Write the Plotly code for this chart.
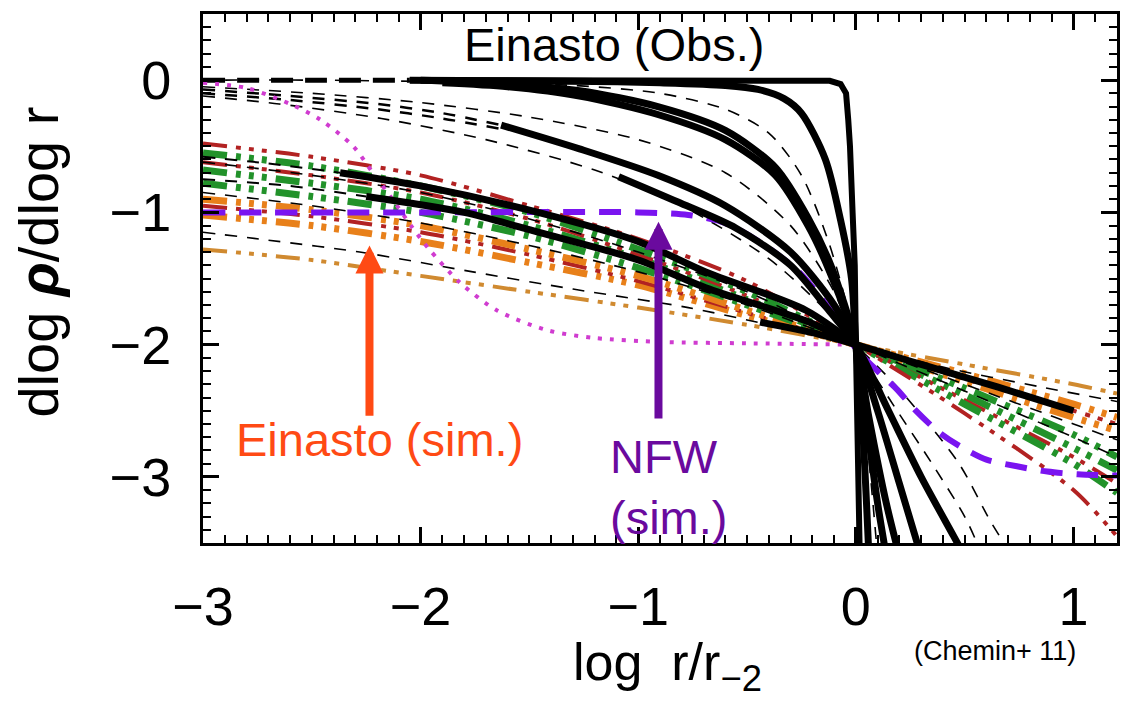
import plotly.graph_objects as go

# ---------------- data ----------------
# simulated Einasto profiles (coloured dash-dot), common x grid
sim_x = [-3.0, -2.5, -2.0, -1.5, -1.0, -0.5, 0.0, 0.5, 1.0, 1.2]
sim_red_1 = [-0.48, -0.58, -0.72, -0.95, -1.20, -1.52, -2.0, -2.52, -3.10, -3.45]
sim_green_1 = [-0.55, -0.65, -0.80, -1.00, -1.28, -1.60, -2.0, -2.45, -2.90, -3.12]
sim_red_2 = [-0.62, -0.72, -0.85, -1.05, -1.32, -1.63, -2.0, -2.42, -2.85, -3.05]
sim_green_2 = [-0.68, -0.78, -0.90, -1.10, -1.35, -1.66, -2.0, -2.38, -2.78, -2.95]
sim_green_3 = [-0.78, -0.88, -1.00, -1.18, -1.42, -1.70, -2.0, -2.33, -2.68, -2.85]
sim_orange_1 = [-0.90, -0.98, -1.10, -1.28, -1.48, -1.74, -2.0, -2.28, -2.55, -2.65]
sim_red_3 = [-0.95, -1.03, -1.15, -1.32, -1.52, -1.76, -2.0, -2.26, -2.50, -2.60]
sim_orange_2 = [-1.02, -1.10, -1.22, -1.38, -1.55, -1.78, -2.0, -2.22, -2.45, -2.55]
sim_tan = [-1.28, -1.36, -1.48, -1.60, -1.72, -1.85, -2.0, -2.15, -2.30, -2.37]

# observed Einasto fits, thin dashed (extrapolations)
dash1_x = [-3.0, -2.5, -2.0, -1.3, -0.9, -0.6, -0.4, -0.25, -0.12, 0.0, 0.05, 0.1]
dash1_y = [0.0, 0.0, -0.01, -0.04, -0.10, -0.22, -0.40, -0.72, -1.25, -2.0, -2.7, -3.6]
dash2_x = [-3.0, -2.5, -2.0, -1.5, -1.0, -0.6, -0.3, -0.1, 0.0, 0.15, 0.35, 0.5, 0.57]
dash2_y = [-0.05, -0.10, -0.17, -0.28, -0.45, -0.70, -1.10, -1.60, -2.0, -2.40, -2.90, -3.30, -3.55]
dash3_x = [-3.0, -2.65, -2.18, -1.7, -1.2, -0.8, -0.4, -0.15, 0.0, 0.19, 0.47, 0.62, 0.7]
dash3_y = [-0.12, -0.18, -0.29, -0.45, -0.68, -0.95, -1.35, -1.72, -2.0, -2.32, -2.89, -3.34, -3.55]
dash4_x = [-3.0, -2.7, -2.28, -1.76, -1.3, -0.77, -0.4, 0.0, 0.4, 0.85, 1.2]
dash4_y = [-1.15, -1.21, -1.30, -1.45, -1.58, -1.72, -1.85, -2.0, -2.17, -2.32, -2.43]
dash5_y = [-0.62, -0.72, -0.85, -1.05, -1.30, -1.60, -2.0, -2.35, -2.70, -2.85]
dash6_y = [-0.85, -0.95, -1.08, -1.25, -1.45, -1.70, -2.0, -2.30, -2.60, -2.72]
dash7_x = [-3.0, -2.6, -2.2, -1.9, -1.63]
dash7_y = [-0.07, -0.12, -0.18, -0.25, -0.34]
dash7b_y = [-0.10, -0.15, -0.22, -0.29, -0.37]
dash8_x = [-3.0, -2.7, -2.37]
dash8_y = [-0.58, -0.63, -0.70]
dash9_x = [-3.0, -2.6, -2.25]
dash9_y = [-0.75, -0.80, -0.88]
dash0_x = [-3.0, -2.5, -2.05]
dash0_y = [0.0, 0.0, 0.0]

# observed Einasto fits, thick solid
obs1_x = [-2.05, -1.0, -0.3, -0.12, -0.07, -0.045, -0.035, -0.027, -0.015, -0.005, 0.0, 0.005, 0.01, 0.018]
obs1_y = [0.0, 0.0, 0.0, -0.005, -0.03, -0.10, -0.30, -0.50, -1.00, -1.40, -2.0, -2.5, -3.0, -3.6]
obs2_x = [-2.05, -1.2, -0.9, -0.6, -0.45, -0.33, -0.25, -0.14, -0.07, -0.02, 0.0, 0.03, 0.06]
obs2_y = [0.0, -0.01, -0.02, -0.04, -0.07, -0.14, -0.25, -0.60, -1.06, -1.50, -2.0, -2.6, -3.6]
obs3_x = [-2.0, -1.7, -1.27, -0.91, -0.6, -0.37, -0.22, -0.115, 0.0, 0.05, 0.1, 0.14]
obs3_y = [0.0, -0.02, -0.08, -0.20, -0.38, -0.66, -1.04, -1.40, -2.0, -2.6, -3.2, -3.6]
obs4_x = [-1.9, -1.6, -1.27, -0.91, -0.6, -0.37, -0.22, -0.12, 0.0, 0.06, 0.14, 0.2]
obs4_y = [-0.02, -0.05, -0.12, -0.26, -0.45, -0.72, -1.10, -1.45, -2.0, -2.55, -3.2, -3.6]
obs5_x = [-1.63, -1.27, -0.91, -0.6, -0.3, -0.1, 0.0, 0.1, 0.2, 0.3]
obs5_y = [-0.34, -0.52, -0.72, -0.95, -1.30, -1.70, -2.0, -2.5, -3.05, -3.6]
obs6_x = [-1.09, -0.82, -0.55, -0.3, -0.12, 0.0, 0.15, 0.3, 0.45, 0.5]
obs6_y = [-0.73, -0.92, -1.12, -1.40, -1.75, -2.0, -2.5, -3.0, -3.45, -3.6]
obs7_x = [-2.37, -2.0, -1.46, -1.0, -0.69, -0.23, 0.0]
obs7_y = [-0.70, -0.80, -1.00, -1.22, -1.45, -1.74, -2.0]
obs8_x = [-2.25, -1.8, -1.46, -1.0, -0.69, -0.23, 0.0]
obs8_y = [-0.88, -1.00, -1.15, -1.36, -1.57, -1.82, -2.0]
obs9_x = [-0.44, -0.2, 0.0, 0.3, 0.65, 1.0]
obs9_y = [-1.83, -1.91, -2.0, -2.15, -2.32, -2.50]

# NFW (sim.) dashed violet
nfw_x = [-3.0, -2.0, -1.0, -0.77, -0.62, -0.55, -0.4, -0.25, -0.1, 0.0, 0.1, 0.19, 0.27, 0.38, 0.48, 0.6, 0.74, 0.88, 1.02, 1.2]
nfw_y = [-1.0, -1.0, -1.0, -1.02, -1.07, -1.12, -1.27, -1.47, -1.78, -2.03, -2.20, -2.34, -2.49, -2.66, -2.77, -2.87, -2.92, -2.96, -2.98, -2.99]

# magenta dotted profile
mag_x = [-3.0, -2.8, -2.6, -2.46, -2.31, -2.22, -2.13, -2.04, -1.96, -1.82, -1.65, -1.42, -1.2, -0.89, -0.5, 0.0]
mag_y = [-0.02, -0.06, -0.18, -0.30, -0.50, -0.70, -0.90, -1.11, -1.28, -1.53, -1.74, -1.89, -1.95, -1.98, -1.99, -2.0]

x_tick_vals = [-3, -2, -1, 0, 1]
x_tick_text = ["\u22123", "\u22122", "\u22121", "0", "1"]
y_tick_vals = [-3, -2, -1, 0]
y_tick_text = ["\u22123", "\u22122", "\u22121", "0"]

# ---------------- styles ----------------
RED = "#B22222"
GREEN = "#22922A"
ORANGE = "#E8801A"
TAN = "#D08A30"
VIOLET = "#7A14F0"
MAGENTA = "#D03CD0"
ARROW_RED = "#FF4A14"
ARROW_PURPLE = "#6A0A9E"
DDD = "24px,9px,5px,8px,5px,8px,5px,9px"

fig = go.Figure()


def add(x, y, color, width, dash, shape="spline"):
    fig.add_trace(go.Scatter(
        x=x, y=y, mode="lines",
        line=dict(color=color, width=width, dash=dash, shape=shape, smoothing=0.8),
        hoverinfo="skip", showlegend=False))


# simulated Einasto
add(sim_x, sim_tan, TAN, 4, DDD)
add(sim_x, sim_orange_2, ORANGE, 7, DDD)
add(sim_x, sim_red_3, RED, 4, DDD)
add(sim_x, sim_orange_1, ORANGE, 7, DDD)
add(sim_x, sim_green_3, GREEN, 7, DDD)
add(sim_x, sim_green_2, GREEN, 7, DDD)
add(sim_x, sim_red_2, RED, 4, DDD)
add(sim_x, sim_green_1, GREEN, 7, DDD)
add(sim_x, sim_red_1, RED, 4, DDD)

# thin dashed black
TD = "12px,10px"
add(dash1_x, dash1_y, "black", 1.6, TD)
add(dash2_x, dash2_y, "black", 1.6, TD)
add(dash3_x, dash3_y, "black", 1.6, TD)
add(dash4_x, dash4_y, "black", 1.6, TD)
add(sim_x, dash5_y, "black", 1.6, TD)
add(sim_x, dash6_y, "black", 1.6, TD)
add(dash7_x, dash7_y, "black", 2.5, TD)
add(dash7_x, dash7b_y, "black", 2.5, TD)
add(dash8_x, dash8_y, "black", 2, TD)
add(dash9_x, dash9_y, "black", 2, TD)
add(dash0_x, dash0_y, "black", 5, "22px,12px")

# magenta dotted and NFW
add(mag_x, mag_y, MAGENTA, 4, "4px,8px")
add(nfw_x, nfw_y, VIOLET, 6, "22px,14px")

# thick observed
add(obs1_x, obs1_y, "black", 6, "solid", "linear")
for xs, ys in [(obs2_x, obs2_y), (obs3_x, obs3_y), (obs4_x, obs4_y), (obs5_x, obs5_y),
               (obs6_x, obs6_y), (obs7_x, obs7_y), (obs8_x, obs8_y), (obs9_x, obs9_y)]:
    add(xs, ys, "black", 7, "solid")

TEXTFONT = "Liberation Sans, Arial, sans-serif"

fig.add_annotation(x=-1.11, y=0.27, text="Einasto (Obs.)", showarrow=False,
                   xanchor="center", yanchor="middle",
                   font=dict(family=TEXTFONT, size=47, color="black"))
fig.add_annotation(x=-2.19, y=-2.72, text="Einasto (sim.)", showarrow=False,
                   xanchor="center", yanchor="middle",
                   font=dict(family=TEXTFONT, size=47, color=ARROW_RED))
fig.add_annotation(x=-1.14, y=-3.08, text="NFW<br>(sim.)", showarrow=False, xanchor="left",
                   yanchor="middle", align="left",
                   font=dict(family=TEXTFONT, size=47, color=ARROW_PURPLE))

# arrows
fig.add_annotation(x=-2.235, y=-1.25, ax=-2.235, ay=-2.55, axref="x", ayref="y", text="",
                   showarrow=True, arrowhead=2, arrowsize=0.7, arrowwidth=8, arrowcolor=ARROW_RED,
                   standoff=0)
fig.add_annotation(x=-0.907, y=-1.07, ax=-0.907, ay=-2.57, axref="x", ayref="y", text="",
                   showarrow=True, arrowhead=2, arrowsize=0.7, arrowwidth=8, arrowcolor=ARROW_PURPLE,
                   standoff=0)

# axis titles and credit
fig.add_annotation(xref="paper", yref="paper", x=-0.18, y=0.531, textangle=-90,
                   xanchor="center", yanchor="middle",
                   text="dlog <b><i>\u03c1</i></b>/dlog r", showarrow=False,
                   font=dict(family=TEXTFONT, size=56, color="black"))
fig.add_annotation(xref="paper", yref="paper", x=0.508, y=-0.232,
                   xanchor="center", yanchor="middle",
                   text="log\u00a0\u00a0r/r<sub>\u22122</sub>", showarrow=False,
                   font=dict(family=TEXTFONT, size=52, color="black"))
fig.add_annotation(xref="paper", yref="paper", x=0.866, y=-0.205,
                   xanchor="center", yanchor="middle",
                   text="(Chemin+ 11)", showarrow=False,
                   font=dict(family=TEXTFONT, size=27, color="black"))

axis_common = dict(
    showgrid=False, zeroline=False, showline=True, linecolor="black", linewidth=3,
    mirror="allticks", ticks="inside", ticklen=16, tickwidth=2.5, tickcolor="black",
    tickfont=dict(family=TEXTFONT, size=54, color="black"),
)
fig.update_xaxes(range=[-3, 1.2], tickvals=x_tick_vals, ticktext=x_tick_text,
                 minor=dict(dtick=0.1, tick0=0, ticks="inside", ticklen=8, tickwidth=2, tickcolor="black"),
                 ticklabelstandoff=14, **axis_common)
fig.update_yaxes(range=[-3.5, 0.5], tickvals=y_tick_vals, ticktext=y_tick_text,
                 minor=dict(dtick=0.1, tick0=0, ticks="inside", ticklen=8, tickwidth=2, tickcolor="black"),
                 ticklabelstandoff=18, **axis_common)

fig.update_layout(
    width=1126, height=702, autosize=False,
    margin=dict(l=203, r=6, t=14, b=159),
    paper_bgcolor="white", plot_bgcolor="white",
    showlegend=False,
)

fig.write_html("out.html")
